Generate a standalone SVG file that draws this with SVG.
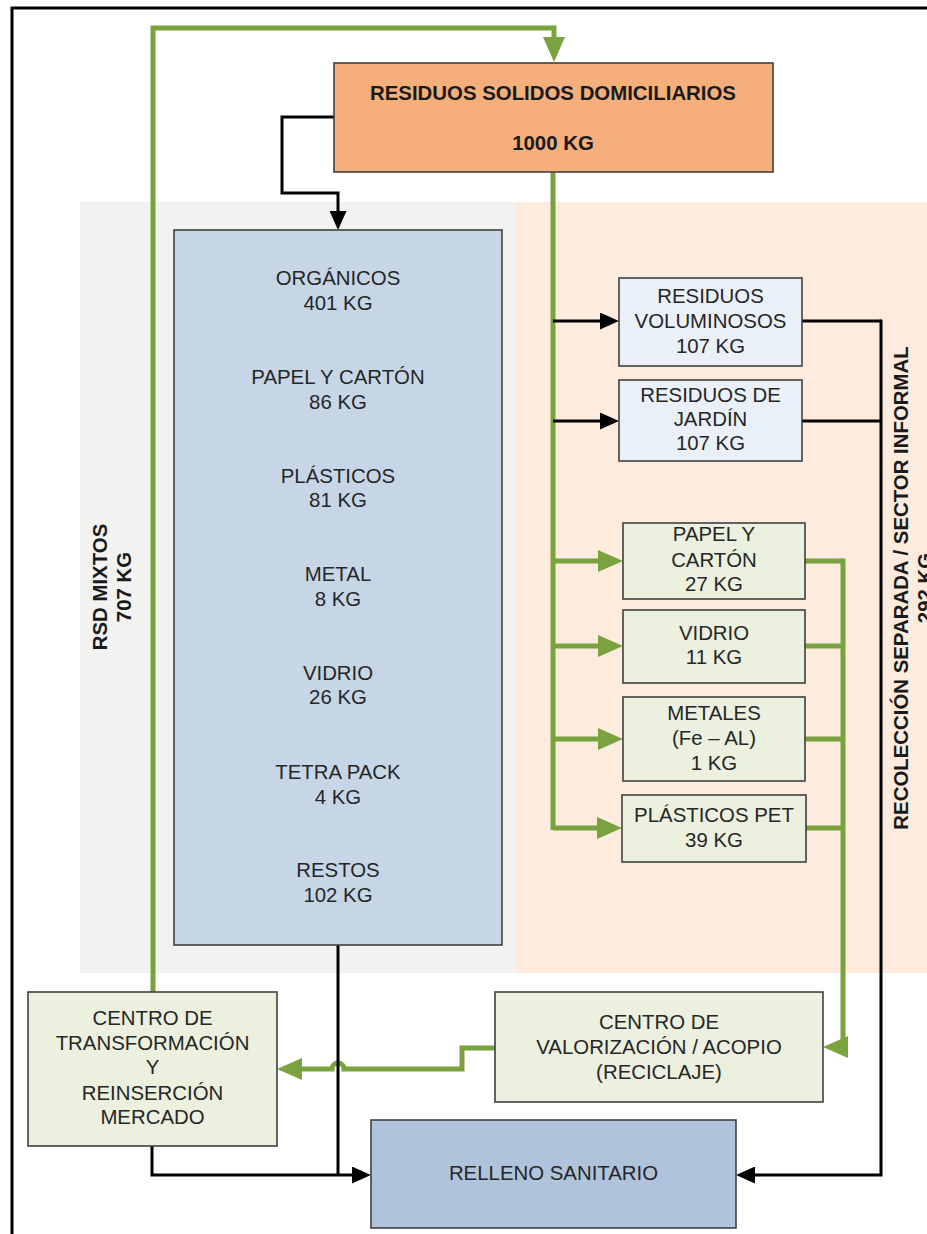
<svg xmlns="http://www.w3.org/2000/svg" width="927" height="1234" viewBox="0 0 927 1234">
<defs>
<style>
.t{font-family:"Liberation Sans",Arial,sans-serif;font-size:20.4px;fill:#262626;text-anchor:middle}
.b{font-weight:bold;fill:#1a1a1a}
.box{stroke:#404040;stroke-width:1.6}
.g{fill:none;stroke:#7AA23E;stroke-width:5}
.k{fill:none;stroke:#000;stroke-width:3}
</style>
<marker id="ga" markerUnits="userSpaceOnUse" markerWidth="25" markerHeight="22" refX="15" refY="11" orient="auto" viewBox="0 0 25 22">
<path d="M0,0 L25,11 L0,22 z" fill="#7AA23E"/>
</marker>
<marker id="ka" markerUnits="userSpaceOnUse" markerWidth="19" markerHeight="17" refX="12" refY="8.5" orient="auto" viewBox="0 0 19 17">
<path d="M0,0 L19,8.5 L0,17 z" fill="#000"/>
</marker>
</defs>
<rect width="927" height="1234" fill="#fff"/>
<g id="frame"><path d="M12,1240 V8 H935" fill="none" stroke="#000" stroke-width="3"/></g>
<g id="bands">
<rect x="80" y="202" width="436" height="771" fill="#F2F2F1"/>
<rect x="516" y="202" width="420" height="771" fill="#FDEBDE"/>
<text class="t b" transform="translate(107,587) rotate(-90)">RSD MIXTOS</text>
<text class="t b" transform="translate(131,587) rotate(-90)">707 KG</text>
<text class="t b" transform="translate(908,588) rotate(-90)">RECOLECCIÓN SEPARADA / SECTOR INFORMAL</text>
<text class="t b" transform="translate(932,588) rotate(-90)">292 KG</text>
</g>
<g id="connectors">
<path class="g" d="M153,992 V28 H554 V52" marker-end="url(#ga)"/>
<path class="g" d="M553,172 V830"/>
<path class="g" d="M553,561 H613" marker-end="url(#ga)"/>
<path class="g" d="M553,646 H613" marker-end="url(#ga)"/>
<path class="g" d="M553,739 H613" marker-end="url(#ga)"/>
<path class="g" d="M553,828 H612" marker-end="url(#ga)"/>
<path class="g" d="M805,561 H843 M805,646 H843 M805,739 H843 M806,828 H843"/>
<path class="g" d="M843,558.5 V1047 H833" marker-end="url(#ga)"/>
<path class="g" d="M495,1048 H462 V1069 H344 A6,6 0 0 0 332,1069 H287" marker-end="url(#ga)"/>
<path class="k" d="M334,117 H282 V193 H338 V223" marker-end="url(#ka)"/>
<path class="k" d="M553,321 H612" marker-end="url(#ka)"/>
<path class="k" d="M553,421 H612" marker-end="url(#ka)"/>
<path class="k" d="M802,321 H881 M802,421 H881"/>
<path class="k" d="M881,319.5 V1175 H743" marker-end="url(#ka)"/>
<path class="k" d="M338,945 V1175"/>
<path class="k" d="M152,1146 V1175 H364" marker-end="url(#ka)"/>
</g>
<g id="rsd">
<rect class="box" x="334" y="63" width="439" height="109" fill="#F5AF7A"/>
<text class="t b" x="553" y="99.5">RESIDUOS SOLIDOS DOMICILIARIOS</text>
<text class="t b" x="553" y="149.5">1000 KG</text>
</g>
<g id="mixtos">
<rect class="box" x="174" y="230" width="328" height="715" fill="#C7D6E7"/>
<text class="t" x="338" y="285">ORGÁNICOS</text>
<text class="t" x="338" y="310">401 KG</text>
<text class="t" x="338" y="384">PAPEL Y CARTÓN</text>
<text class="t" x="338" y="409">86 KG</text>
<text class="t" x="338" y="483">PLÁSTICOS</text>
<text class="t" x="338" y="507">81 KG</text>
<text class="t" x="338" y="581">METAL</text>
<text class="t" x="338" y="606">8 KG</text>
<text class="t" x="338" y="680">VIDRIO</text>
<text class="t" x="338" y="704">26 KG</text>
<text class="t" x="338" y="779">TETRA PACK</text>
<text class="t" x="338" y="804">4 KG</text>
<text class="t" x="338" y="877">RESTOS</text>
<text class="t" x="338" y="902">102 KG</text>
</g>
<g id="voluminosos">
<rect class="box" x="619" y="278" width="183" height="88" fill="#EAF0F7"/>
<text class="t" x="710.5" y="303">RESIDUOS</text>
<text class="t" x="710.5" y="328">VOLUMINOSOS</text>
<text class="t" x="710.5" y="353">107 KG</text>
</g>
<g id="jardin">
<rect class="box" x="619" y="380" width="183" height="81" fill="#EAF0F7"/>
<text class="t" x="710.5" y="402">RESIDUOS DE</text>
<text class="t" x="710.5" y="426">JARDÍN</text>
<text class="t" x="710.5" y="450">107 KG</text>
</g>
<g id="papel">
<rect class="box" x="623" y="523" width="182" height="76" fill="#EBF0DF"/>
<text class="t" x="714" y="541">PAPEL Y</text>
<text class="t" x="714" y="567">CARTÓN</text>
<text class="t" x="714" y="591">27 KG</text>
</g>
<g id="vidrio">
<rect class="box" x="623" y="610" width="182" height="73" fill="#EBF0DF"/>
<text class="t" x="714" y="640">VIDRIO</text>
<text class="t" x="714" y="664">11 KG</text>
</g>
<g id="metales">
<rect class="box" x="623" y="697" width="182" height="84" fill="#EBF0DF"/>
<text class="t" x="714" y="720">METALES</text>
<text class="t" x="714" y="745">(Fe – AL)</text>
<text class="t" x="714" y="770">1 KG</text>
</g>
<g id="pet">
<rect class="box" x="622" y="795" width="184" height="67" fill="#EBF0DF"/>
<text class="t" x="714" y="822">PLÁSTICOS PET</text>
<text class="t" x="714" y="847">39 KG</text>
</g>
<g id="transformacion">
<rect class="box" x="28" y="992" width="249" height="154" fill="#EBF0DF"/>
<text class="t" x="152.5" y="1025">CENTRO DE</text>
<text class="t" x="152.5" y="1050">TRANSFORMACIÓN</text>
<text class="t" x="152.5" y="1074">Y</text>
<text class="t" x="152.5" y="1100">REINSERCIÓN</text>
<text class="t" x="152.5" y="1124">MERCADO</text>
</g>
<g id="valorizacion">
<rect class="box" x="495" y="992" width="328" height="110" fill="#EBF0DF"/>
<text class="t" x="659" y="1029">CENTRO DE</text>
<text class="t" x="659" y="1054">VALORIZACIÓN / ACOPIO</text>
<text class="t" x="659" y="1079">(RECICLAJE)</text>
</g>
<g id="relleno">
<rect class="box" x="371" y="1120" width="365" height="108" fill="#AFC3DD"/>
<text class="t" x="553.5" y="1180">RELLENO SANITARIO</text>
</g>
</svg>
